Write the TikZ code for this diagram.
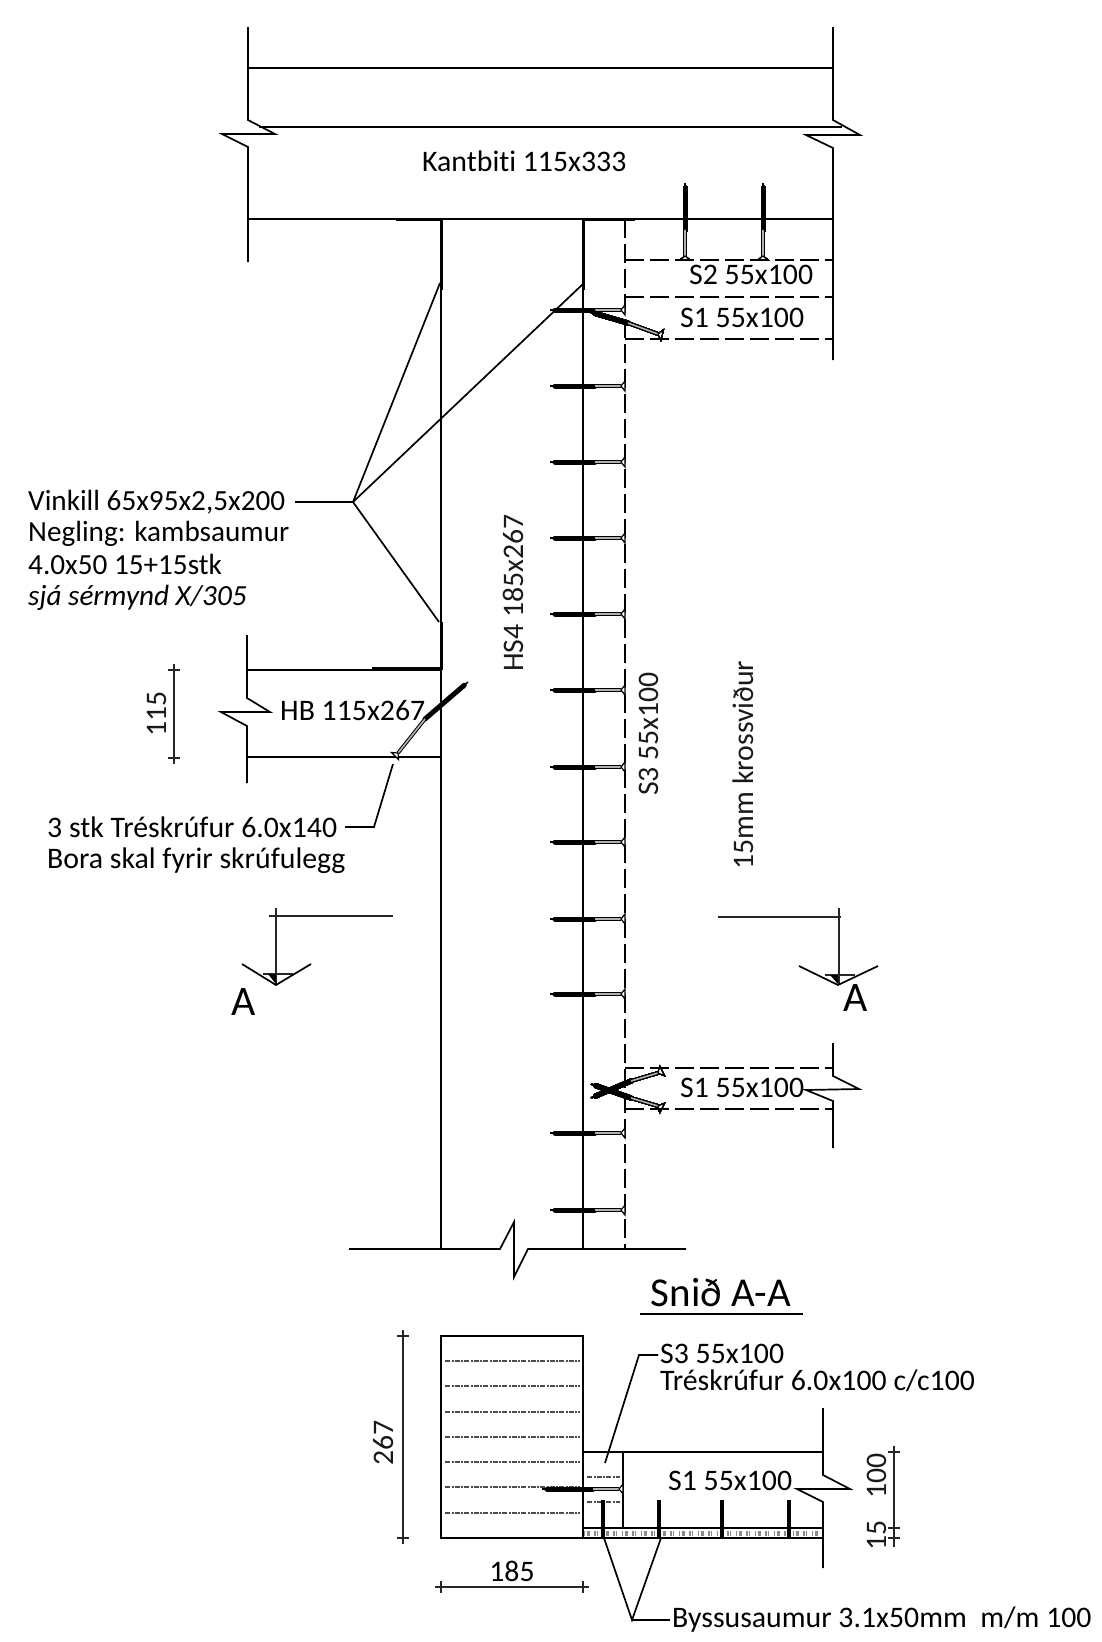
\documentclass[tikz,border=0pt]{standalone}
\usepackage{fontspec}
\setmainfont{Carlito}[Ligatures=NoCommon]
\usetikzlibrary{calc}
\tikzset{
  lbl/.style={font=\fontsize{29.8}{31}\selectfont, inner sep=0pt, anchor=west, align=left},
  vlbl/.style={font=\fontsize{29.8}{31}\selectfont, inner sep=0pt, rotate=90, gray!20!black},
  ln/.style={line width=1.7pt, black},
  thickln/.style={line width=3pt, black},
  hairln/.style={line width=1.2pt, black!85},
  hidden/.style={line width=2pt, black, dash pattern=on 19pt off 6pt},
  grain/.style={line width=1.1pt, black!70, dash pattern=on 5pt off 1.5pt on 2pt off 1pt},
  screwbody/.style={line width=5pt, black, line cap=round},
  ply/.style={line width=5pt, black!45, dash pattern=on 1pt off 2pt on 3pt off 4pt on 2pt off 1pt on 1pt off 5pt},
}
\newcommand{\screwat}[4]{% tip, end of thread, start of head, head
  \draw[line width=1.5pt] (#1) -- (#2);
  \draw[screwbody] ($(#1)!5pt!(#2)$) -- (#2);
  \draw[line width=1pt, draw=black, double=black!30, double distance=1.6pt] (#2) -- (#3);
  \draw[line width=1.2pt, fill=white] (#3) -- ($(#4)!5pt!90:(#3)$) -- ($(#4)!5pt!-90:(#3)$) -- cycle;
}
\newcommand{\dimtick}[2]{% tick of a vertical or horizontal dimension line
  \draw[hairln] ($(#1)+(-#2,0)$) -- ($(#1)+(#2,0)$);
  \draw[hairln] ($(#1)+(0,-#2)$) -- ($(#1)+(0,#2)$);
}
\begin{document}
\begin{tikzpicture}[x=1pt,y=-1pt]
\useasboundingbox (0,0) rectangle (1101,1642);
% kantbiti
\draw[ln] (248,27) -- (248,120) -- (275,134) -- (222,134) -- (248,147) -- (248,262);
\draw[ln] (833,27) -- (833,120) -- (860,135) -- (806,135) -- (833,148) -- (833,360);
\draw[ln] (248,68) -- (833,68);
\draw[line width=2pt] (259,127) -- (842,127);
\draw[line width=1.8pt] (248,219) -- (833,219);
\node[lbl] (kantbiti) at (422,161) {Kantbiti 115x333};
% column
\draw[line width=2pt] (441,219) -- (441,1249);
\draw[line width=2pt] (583,219) -- (583,1249);
\draw[hidden] (624.500,219) -- (624.500,1249);
\draw[ln] (349,1249) -- (500,1249) -- (514,1222) -- (514,1277) -- (528,1249) -- (686,1249);
\node[vlbl] (hsfour) at (513,593) {HS4 185x267};
\node[vlbl] (sthree) at (649,734) {S3 55x100};
\node[vlbl] (kross) at (743,765) {15mm krossviður};
% vinkill
\draw[thickln] (396,219) -- (441,219) -- (441,290);
\draw[thickln] (583,290) -- (583,219) -- (635,219);
\draw[thickln] (441,622) -- (441,668) -- (372,668);
\coordinate (vinkillfork) at (353,502);
\coordinate (vinkilla) at (440,283);
\coordinate (vinkillb) at (584,283);
\coordinate (vinkillc) at (439,622);
\node[lbl, font=\fontsize{29.2}{31}\selectfont] (vinkill) at (28,550) {Vinkill 65x95x2,5x200\\Negling: kambsaumur\\[2pt]4.0x50 15+15stk\\\textit{sjá sérmynd X/305}};
\draw[ln] (295,502) -- (vinkillfork) -- (vinkilla);
\draw[ln] (vinkillb) -- (vinkillfork) -- (vinkillc);
% hb
\draw[ln] (247,635) -- (247,698) -- (270,712) -- (221,712) -- (247,726) -- (247,783);
\draw[ln] (247,670) -- (441,670);
\draw[ln] (247,757) -- (441,757);
\node[lbl] (hb) at (280,711) {HB 115x267};
\draw[hairln] (174,670) -- (174,758);
\dimtick{174,670}{6}
\dimtick{174,758}{6}
\node[vlbl] (hbdim) at (157,714) {115};
\screwat{468,682}{425,719}{398,753}{395,756}
\coordinate (hbscrew) at (393,764);
\coordinate (hbbend) at (374,827);
\node[lbl] (hbtext) at (47,845) {3 stk Tréskrúfur 6.0x140\\Bora skal fyrir skrúfulegg};
\draw[ln] (345,827) -- (hbbend) -- (hbscrew);
% section marks
\draw[hairln] (269,916) -- (393,916);
\draw[hairln] (276,908) -- (276,985);
\draw[ln] (242,964) -- (276,985) -- (311,964);
\draw[hairln] (263,974) -- (293,974);
\fill (268,974) -- (276,974) -- (276,984) -- cycle;
\node[font=\fontsize{42}{42}\selectfont, inner sep=0pt] (aleft) at (244,1002) {A};
\draw[hairln] (718,917) -- (841,917);
\draw[hairln] (839,908) -- (839,985);
\draw[ln] (799,966) -- (838,985) -- (878,966);
\draw[hairln] (825,975) -- (855,975);
\fill (830,975) -- (838,975) -- (838,984) -- cycle;
\node[font=\fontsize{42}{42}\selectfont, inner sep=0pt] (aright) at (856,998) {A};
% screws
\foreach \ypos in {310,386,462,538,614,690,767,842,919,994,1133,1210}
  \screwat{550,\ypos}{595,\ypos}{621,\ypos}{625,\ypos}
\foreach \xpos in {685,763}
  \screwat{\xpos,183}{\xpos,230}{\xpos,256}{\xpos,260}
\screwat{590,312}{628,323}{658,334}{662,335}
\screwat{591,1084}{631,1098}{658,1106}{662,1108}
\screwat{591,1098}{631,1081}{658,1073}{662,1071}
% s2 s1
\draw[hidden] (625,260) -- (833,260);
\draw[hidden] (625,297) -- (833,297);
\draw[hidden] (625,339) -- (833,339);
\node[lbl] (stwo) at (689,275) {S2 55x100};
\node[lbl] (sonea) at (680,318) {S1 55x100};
% lower s1
\draw[hidden] (625,1068) -- (833,1068);
\draw[hidden] (625,1109) -- (833,1109);
\draw[ln] (833,1043) -- (833,1076) -- (859,1089) -- (806,1090) -- (833,1101) -- (833,1148);
\node[lbl] (soneb) at (680,1088) {S1 55x100};
% section
\node[font=\fontsize{41}{41}\selectfont, inner sep=0pt] (snid) at (721,1293) {Snið A-A};
\draw[line width=1.8pt] (640,1314) -- (803,1314);
\draw[line width=2pt] (441,1336) rectangle (583,1538);
\foreach \ypos in {1361,1386,1412,1437,1462,1487,1513}
  \draw[grain] (445,\ypos) -- (580,\ypos);
\draw[line width=2pt] (583,1452) -- (823,1452);
\draw[ln] (623,1452) -- (623,1528);
\draw[line width=1.8pt] (583,1528) -- (823,1528);
\draw[line width=2pt] (583,1538) -- (823,1538);
\draw[ply] (584,1533) -- (823,1533);
\draw[grain] (587,1477) -- (620,1477);
\draw[grain] (587,1502) -- (620,1502);
\draw[ln] (823,1408) -- (823,1475) -- (850,1489) -- (797,1489) -- (823,1502) -- (823,1568);
\node[lbl] (sonec) at (668,1481) {S1 55x100};
\screwat{542,1489}{593,1489}{619,1489}{623,1489}
\foreach \xpos in {603,659,722,789}
  \draw[line width=4.5pt] (\xpos,1500) -- (\xpos,1538);
% labels section
\coordinate (sthreept) at (605,1463);
\coordinate (sthreebend) at (639,1355);
\node[lbl] (sthreetext) at (660,1368) {S3 55x100\\[-3.5pt]Tréskrúfur 6.0x100 c/c100};
\draw[ln] (sthreept) -- (sthreebend) -- (658,1355);
\coordinate (nailfork) at (632,1620);
\coordinate (naila) at (604,1538);
\coordinate (nailb) at (661,1538);
\node[lbl] (nailtext) at (672,1620) {Byssusaumur 3.1x50mm\ \ m/m 100};
\draw[ln] (naila) -- (nailfork) -- (nailb);
\draw[ln] (nailfork) -- (670,1620);
% dimensions
\draw[hairln] (403,1336) -- (403,1538);
\dimtick{403,1336}{6}
\dimtick{403,1538}{6}
\node[vlbl] (dimh) at (384,1443) {267};
\draw[hairln] (441,1587) -- (583,1587);
\dimtick{441,1587}{6}
\dimtick{583,1587}{6}
\node[font=\fontsize{29.8}{31}\selectfont, inner sep=0pt] (dimb) at (512,1571) {185};
\draw[hairln] (894,1447) -- (894,1547);
\dimtick{894,1452}{6}
\dimtick{894,1528}{6}
\dimtick{894,1538}{6}
\node[vlbl] (dimc) at (877,1476) {100};
\node[vlbl] (dimd) at (877,1535) {15};
\end{tikzpicture}
\end{document}
